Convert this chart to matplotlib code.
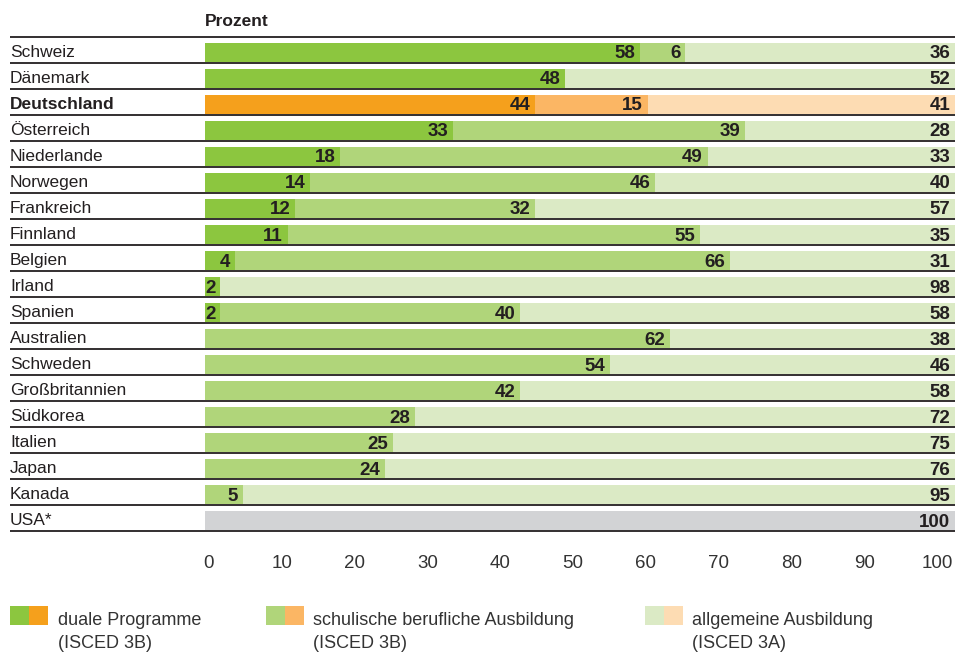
import matplotlib.pyplot as plt
from matplotlib.patches import Rectangle

plt.rcParams['font.family'] = ['Liberation Sans', 'DejaVu Sans']

countries = ['Schweiz', 'Dänemark', 'Deutschland', 'Österreich', 'Niederlande', 'Norwegen',
             'Frankreich', 'Finnland', 'Belgien', 'Irland', 'Spanien', 'Australien', 'Schweden',
             'Großbritannien', 'Südkorea', 'Italien', 'Japan', 'Kanada', 'USA*']
duale = [58, 48, 44, 33, 18, 14, 12, 11, 4, 2, 2, 0, 0, 0, 0, 0, 0, 0, 0]
schulisch = [6, 0, 15, 39, 49, 46, 32, 55, 66, 0, 40, 62, 54, 42, 28, 25, 24, 5, 0]
allgemein = [36, 52, 41, 28, 33, 40, 57, 35, 31, 98, 58, 38, 46, 58, 72, 75, 76, 95, 100]
ticks = [0, 10, 20, 30, 40, 50, 60, 70, 80, 90, 100]
legend_labels = ['duale Programme\n(ISCED 3B)', 'schulische berufliche Ausbildung\n(ISCED 3B)',
                 'allgemeine Ausbildung\n(ISCED 3A)']

GREEN = ['#8cc63f', '#b0d57a', '#dbeac5']
ORANGE = ['#f5a01c', '#fbb664', '#fddcb3']
GREY = '#d2d3d5'
TXT = '#231f20'
W, H = 966, 653

fig = plt.figure(figsize=(W / 100, H / 100), dpi=100)
# bars axis: x 205..955 px, y 37..531 px
ax = fig.add_axes([205 / W, 1 - 531 / H, 750 / W, (531 - 37) / H])
ax.set_xlim(0, 100)
ax.set_ylim(18 + 10 / 26, -15.5 / 26)
ax.axis('off')

bh = 19 / 26
for i, c in enumerate(countries):
    if c == 'USA*':
        cols = [GREY] * 3
    elif c == 'Deutschland':
        cols = ORANGE
    else:
        cols = GREEN
    left = 0
    for v, col in zip([duale[i], schulisch[i], allgemein[i]], cols):
        if v == 0:
            continue
        end = min(left + v, 100)
        ax.barh(i, end - left, left=left, height=bh, color=col, linewidth=0)
        ax.text(end - 0.6, i + 0.05, str(v), ha='right', va='center',
                fontsize=13.5, fontweight='bold', color=TXT)
        left = end
    ax.text(-195 / 750, i, c, transform=ax.get_yaxis_transform(), ha='left', va='center',
            fontsize=12.5, color=TXT, fontweight='bold' if c == 'Deutschland' else 'normal')
    ax.plot([-195 / 750, 1], [i + 10 / 26] * 2, transform=ax.get_yaxis_transform(),
            color=TXT, lw=1.3, clip_on=False, solid_capstyle='butt')

ax.plot([-195 / 750, 1], [-15.5 / 26] * 2, transform=ax.get_yaxis_transform(),
        color=TXT, lw=1.3, clip_on=False, solid_capstyle='butt')

fig.text(205 / W, 1 - 21 / H, 'Prozent', fontsize=12.5, fontweight='bold', color=TXT,
         ha='left', va='center')

# tick labels sit on a slightly different scale than the bars in the original
tax = fig.add_axes([209 / W, 1 - 545 / H, 728 / W, 0.001])
tax.set_xlim(0, 100)
tax.set_xticks(ticks)
tax.set_xticklabels([str(t) for t in ticks])
tax.set_yticks([])
for s in tax.spines.values():
    s.set_visible(False)
tax.tick_params(axis='x', length=0, pad=7, labelsize=13.5, labelcolor='#333333')

# legend
leg_x = [10, 266, 645]
leg_tx = [58, 313, 692]
for k in range(3):
    fig.patches.append(Rectangle((leg_x[k] / W, 1 - 625 / H), 19 / W, 19 / H,
                                 transform=fig.transFigure, color=GREEN[k], lw=0))
    fig.patches.append(Rectangle(((leg_x[k] + 19) / W, 1 - 625 / H), 19 / W, 19 / H,
                                 transform=fig.transFigure, color=ORANGE[k], lw=0))
    fig.text(leg_tx[k] / W, 1 - 632 / H, legend_labels[k], fontsize=13, color='#333333',
             ha='left', va='center', linespacing=1.5)

fig.savefig('out.png', dpi=100)
